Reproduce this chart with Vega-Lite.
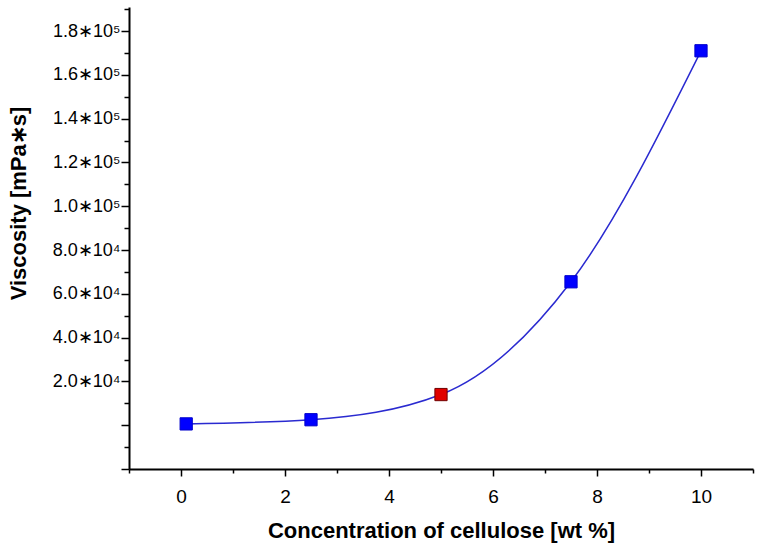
{
  "$schema": "https://vega.github.io/schema/vega-lite/v6.json",
  "width": 624,
  "height": 462,
  "autosize": {"type": "none"},
  "padding": {"left": 129, "top": 7, "right": 6, "bottom": 81},
  "background": "white",
  "config": {"view": {"stroke": null}},
  "data": {"values": [
    {"concentration": 0.1, "viscosity": 600},
    {"concentration": 2.5, "viscosity": 2500},
    {"concentration": 5.0, "viscosity": 14000},
    {"concentration": 7.5, "viscosity": 65500},
    {"concentration": 10.0, "viscosity": 171000}
  ]},
  "encoding": {
    "x": {
      "field": "concentration", "type": "quantitative",
      "scale": {"domain": [-1, 11], "nice": false, "zero": false},
      "axis": {
        "title": "Concentration of cellulose [wt %]",
        "values": [-1, 0, 1, 2, 3, 4, 5, 6, 7, 8, 9, 10, 11],
        "labelExpr": "datum.value % 2 == 0 ? datum.value : ''",
        "grid": false,
        "domainColor": "black", "domainWidth": 2,
        "tickColor": "black", "tickWidth": 1.5,
        "tickSize": {"condition": {"test": "datum.value % 2 == 0", "value": 7}, "value": 4},
        "labelFont": "Liberation Sans", "labelFontSize": 19, "labelColor": "black",
        "labelPadding": 11, "labelFlush": false,
        "titleFont": "Liberation Sans", "titleFontSize": 22, "titleFontWeight": "bold", "titleColor": "black",
        "titleY": 61, "titleBaseline": "middle"
      }
    },
    "y": {
      "field": "viscosity", "type": "quantitative",
      "scale": {"domain": [-20000, 191000], "nice": false, "zero": false},
      "axis": {
        "title": "Viscosity [mPa∗s]",
        "values": [-20000, -10000, 0, 10000, 20000, 30000, 40000, 50000, 60000, 70000, 80000, 90000, 100000, 110000, 120000, 130000, 140000, 150000, 160000, 170000, 180000, 190000],
        "labelExpr": "datum.value >= 100000 && datum.value % 20000 == 0 ? format(datum.value/100000, '.1f') + '∗10⁵' : (datum.value > 0 && datum.value % 20000 == 0 ? format(datum.value/10000, '.1f') + '∗10⁴' : '')",
        "grid": false,
        "domainColor": "black", "domainWidth": 2,
        "tickColor": "black", "tickWidth": 1.5,
        "tickSize": {"condition": {"test": "datum.value % 20000 == 0", "value": 8}, "value": 5},
        "labelFont": "Liberation Sans", "labelFontSize": 18, "labelColor": "black",
        "labelPadding": 1, "labelFlush": false, "labelBaseline": "middle",
        "titleFont": "Liberation Sans", "titleFontSize": 22, "titleFontWeight": "bold", "titleColor": "black",
        "titleAngle": 270, "titleBaseline": "middle", "titleAlign": "center",
        "titleX": -111, "titleY": 196
      }
    }
  },
  "layer": [
    {
      "mark": {"type": "line", "interpolate": "monotone", "color": "#2a2ad0", "strokeWidth": 1.5}
    },
    {
      "mark": {"type": "point", "shape": "square", "filled": true, "size": 150, "opacity": 1, "strokeWidth": 1},
      "encoding": {
        "fill": {"condition": {"test": "datum.concentration == 5", "value": "#e00000"}, "value": "#0000ff"},
        "stroke": {"condition": {"test": "datum.concentration == 5", "value": "#700000"}, "value": "#0000cc"}
      }
    }
  ]
}
